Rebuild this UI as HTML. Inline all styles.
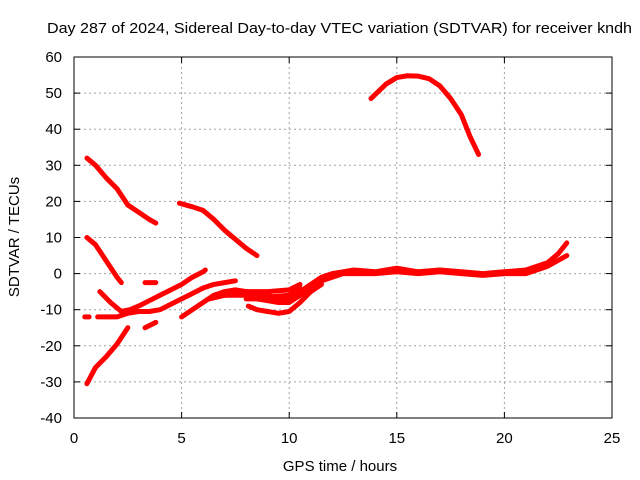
<!DOCTYPE html>
<html><head><meta charset="utf-8"><style>
body{margin:0;background:#fff}
svg{display:block;font-family:"Liberation Sans",sans-serif;font-size:15px}
</style></head><body>
<svg id="chart" width="640" height="480" viewBox="0 0 640 480">
<text x="47" y="33" textLength="585" lengthAdjust="spacingAndGlyphs">Day 287 of 2024, Sidereal Day-to-day VTEC variation (SDTVAR) for receiver kndh</text>
<g id="grid"></g>
<g id="series"></g>
<rect x="74" y="57" width="538" height="361" fill="none" stroke="#000" stroke-width="1"/>
<g id="ticks"></g>
<text x="340" y="471" text-anchor="middle">GPS time / hours</text>
<text transform="translate(19,237) rotate(-90)" text-anchor="middle">SDTVAR / TECUs</text>
</svg>
<script>
const xTicks=[0,5,10,15,20,25];
const yTicks=[60,50,40,30,20,10,0,-10,-20,-30,-40];
const arcTop=[[13.8,48.5],[14.5,52.5],[15,54.3],[15.5,54.8],[16,54.7],[16.5,54],[17,52],[17.5,48.5],[18,44],[18.4,38],[18.8,33]];
const seriesA=[[0.6,32],[1,30],[1.5,26.5],[2,23.5],[2.5,19],[3,17],[3.5,15],[3.8,14]];
const seriesB=[[4.9,19.5],[5.5,18.5],[6,17.5],[6.5,15],[7,12],[7.5,9.5],[8,7],[8.5,5]];
const seriesC=[[0.6,10],[1,8],[1.5,3.5],[2,-1],[2.2,-2.5]];
const seriesD=[[0.6,-30.5],[1,-26],[1.5,-23],[2,-19.5],[2.5,-15]];
const seriesE=[[0.5,-12],[0.7,-12]];
const seriesF=[[1.2,-5],[1.7,-8],[2.2,-10.5],[2.6,-10],[3,-9],[3.5,-7.5],[4,-6],[4.5,-4.5],[5,-3],[5.5,-1],[6,0.5],[6.1,1]];
const seriesG=[[1.1,-12],[1.5,-12],[2,-12],[2.5,-11],[3,-10.5],[3.5,-10.5],[4,-10],[4.5,-8.5],[5,-7],[5.5,-5.5],[6,-4],[6.5,-3],[7,-2.5],[7.5,-2]];
const seriesH=[[5,-12],[5.5,-10],[6,-8],[6.5,-6],[7,-5],[7.5,-4.5],[8,-5],[8.5,-5.5],[9,-6],[9.5,-7],[10,-7],[10.5,-5],[11,-3],[11.5,-1],[12,0],[12.5,0.5],[13,1],[14,0.5],[15,1.5],[16,0.5],[17,1],[18,0.5],[19,0],[20,0.5],[21,1],[21.5,2],[22,3],[22.5,5.5],[22.9,8.5]];
const seriesI=[[8,-7],[8.5,-7],[9,-7.5],[9.5,-8],[10,-8],[10.5,-6],[11,-4],[11.5,-2],[12,-1],[12.5,0],[13,0],[14,0],[15,0.5],[16,0],[17,0.5],[18,0],[19,-0.5],[20,0],[21,0],[22,2],[22.9,5]];
const seriesJ=[[8.1,-9],[8.5,-10],[9,-10.5],[9.5,-11],[10,-10.5],[10.5,-8],[11,-5],[11.5,-3]];
const seriesK=[[3.3,-2.5],[3.8,-2.5]];
const seriesL=[[3.3,-15],[3.8,-13.5]];
const seriesM=[[6.3,-7],[7,-6],[8,-5],[9,-5],[10,-4.5],[10.5,-3]];
const seriesN=[[7,-6],[8,-6],[9,-6.5],[10,-6],[10.5,-4]];
const allSeries=[arcTop,seriesA,seriesB,seriesC,seriesD,seriesE,seriesF,seriesG,seriesH,seriesI,seriesJ,seriesK,seriesL,seriesM,seriesN];
const X0=74,X1=612,Y0=57,Y1=418;
function xs(h){return X0+(h-0)/(25-0)*(X1-X0);}
function ys(v){return Y0+(60-v)/(60-(-40))*(Y1-Y0);}
const NS="http://www.w3.org/2000/svg";
const grid=document.getElementById('grid'),ticks=document.getElementById('ticks'),ser=document.getElementById('series');
function mk(t,a,p){const e=document.createElementNS(NS,t);for(const k in a)e.setAttribute(k,a[k]);p.appendChild(e);return e;}
xTicks.forEach(t=>{const x=xs(t);
 if(t>0&&t<25){const g=mk('line',{x1:x,x2:x,y1:Y0,y2:Y1,stroke:'#a0a0a0','stroke-dasharray':'2,3'},grid);
 
 }
 const l=mk('line',{x1:x,x2:x,y1:Y1,y2:Y1-6,stroke:'#000'},ticks);
 
 
 mk('line',{x1:x,x2:x,y1:Y0,y2:Y0+6,stroke:'#000'},ticks);
 const tx=mk('text',{x:x,y:443,'text-anchor':'middle'},ticks);tx.textContent=t;
 
 
});
yTicks.forEach(t=>{const y=ys(t);
 if(t<60&&t>-40){const g=mk('line',{x1:X0,x2:X1,y1:y,y2:y,stroke:'#a0a0a0','stroke-dasharray':'2,3'},grid);
 
 }
 const l=mk('line',{x1:X0,x2:X0+6,y1:y,y2:y,stroke:'#000'},ticks);
 
 
 mk('line',{x1:X1,x2:X1-6,y1:y,y2:y,stroke:'#000'},ticks);
 const tx=mk('text',{x:62,y:y+5,'text-anchor':'end'},ticks);tx.textContent=t;
 
 
});
allSeries.forEach((s,i)=>{
 const p=mk('polyline',{points:s.map(d=>xs(d[0])+','+ys(d[1])).join(' '),fill:'none',stroke:'#ff0000','stroke-width':5,'stroke-linejoin':'round','stroke-linecap':'round'},ser);
 
 
});
</script>
</body></html>
